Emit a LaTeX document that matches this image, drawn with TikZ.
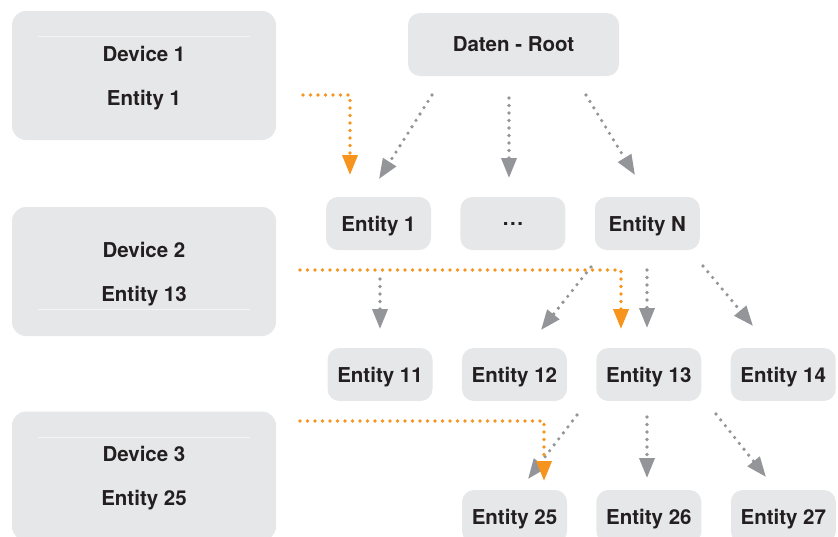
\documentclass[tikz,border=0pt]{standalone}
\usepackage{fontspec}
\setmainfont{TeX Gyre Heros}
\usetikzlibrary{arrows.meta,positioning}
\definecolor{boxgray}{HTML}{E6E7E8}
\definecolor{arrgray}{HTML}{939598}
\definecolor{hotorange}{HTML}{F7941D}
\definecolor{ink}{HTML}{231F20}

\begin{document}
\begin{tikzpicture}[x=1pt,y=-1pt,
  entity/.style={fill=boxgray,rounded corners=12pt,minimum width=105pt,minimum height=53pt,text depth=0pt,text=ink,font=\fontsize{20.5}{24}\selectfont\bfseries},
  device/.style={entity,rounded corners=14pt,minimum width=264pt,minimum height=129pt,align=center},
  link/.style={arrgray,line width=3.6pt,line cap=round,dash pattern=on 0pt off 7.5pt,-{Triangle[length=20pt,width=15pt]}},
  hot/.style={link,hotorange},
  sepline/.style={draw=white!55!boxgray,line width=0.6pt}]
\clip (0,0) rectangle (838,536);
% devices on the left
\node[device] (dev1) at (144,75.5) {Device 1\\[20pt]Entity 1};
\node[device] (dev2) at (144,271.5) {Device 2\\[20pt]Entity 13};
\node[device] (dev3) at (144,476) {Device 3\\[20pt]Entity 25};
\draw[sepline] (38,36) -- (250,36);
\draw[sepline] (38,309) -- (250,309);
\draw[sepline] (38,437) -- (250,437);
% tree
\node[entity,minimum width=211pt,minimum height=63pt] (root) at (513.5,44.5) {Daten - Root};
\node[entity] (e1) at (378.5,223.5) {Entity 1};
\node[entity,right=29pt of e1] (edots) {.\hspace{1.6pt}.\hspace{1.6pt}.};
\node[entity,right=29pt of edots] (eN) {Entity N};
\node[entity] (e11) at (380,374.5) {Entity 11};
\node[entity,right=29pt of e11] (e12) {Entity 12};
\node[entity,right=29pt of e12] (e13) {Entity 13};
\node[entity,right=29pt of e13] (e14) {Entity 14};
\node[entity] (e25) at (514.5,516.5) {Entity 25};
\node[entity,right=29pt of e25] (e26) {Entity 26};
\node[entity,right=29pt of e26] (e27) {Entity 27};
% free ends of the arrows
\coordinate (g1a) at (432,95);  \coordinate (g1b) at (379,179);
\coordinate (g2a) at (509,98);  \coordinate (g2b) at (509,178);
\coordinate (g3a) at (586,95);  \coordinate (g3b) at (635,175);
\coordinate (g4a) at (380,279); \coordinate (g4b) at (380,329);
\coordinate (g5a) at (591,267); \coordinate (g5b) at (541,330);
\coordinate (g6a) at (647,270); \coordinate (g6b) at (647,328);
\coordinate (g7a) at (703,266); \coordinate (g7b) at (753,326);
\coordinate (g8a) at (577,415); \coordinate (g8b) at (528,479);
\coordinate (g9a) at (647,417); \coordinate (g9b) at (647,478);
\coordinate (g10a) at (716,414); \coordinate (g10b) at (766,477);
\coordinate (o1a) at (303,95);  \coordinate (o1b) at (350,175);
\coordinate (o2a) at (300,270); \coordinate (o2b) at (621,329);
\coordinate (o3a) at (300,421); \coordinate (o3b) at (544,481);
\draw[link] (g1a) -- (g1b); \draw[link] (g2a) -- (g2b); \draw[link] (g3a) -- (g3b);
\draw[link] (g4a) -- (g4b); \draw[link] (g5a) -- (g5b);
\draw[link] (g6a) -- (g6b); \draw[link] (g7a) -- (g7b);
\draw[link] (g8a) -- (g8b); \draw[link] (g9a) -- (g9b); \draw[link] (g10a) -- (g10b);
% lookups from the devices
\draw[hot] (o1a) -| (o1b);
\draw[hot] (o2a) -| (o2b);
\draw[hot] (o3a) -| (o3b);
\end{tikzpicture}
\end{document}
